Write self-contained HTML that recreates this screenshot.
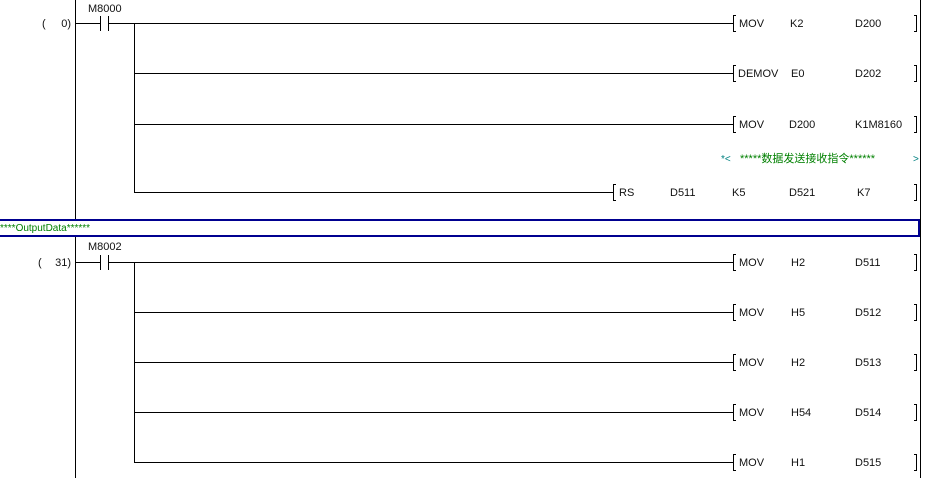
<!DOCTYPE html>
<html><head><meta charset="utf-8"><style>
html,body{margin:0;padding:0;background:#fff;width:941px;height:478px;overflow:hidden}
svg{display:block}
text{font-family:"Liberation Sans","Noto Sans CJK SC",sans-serif;font-size:11px;fill:#111}
.g{fill:#008000}
</style></head><body>
<svg width="941" height="478" viewBox="0 0 941 478" xmlns="http://www.w3.org/2000/svg">
<g stroke="#000" stroke-width="1" fill="none" shape-rendering="crispEdges">
<!-- rails -->
<line x1="75.5" y1="0" x2="75.5" y2="219"/>
<line x1="75.5" y1="237" x2="75.5" y2="478"/>
<line x1="920.5" y1="0" x2="920.5" y2="478"/>
<!-- block 1 -->
<line x1="76" y1="23.5" x2="100" y2="23.5"/>
<line x1="100.5" y1="16" x2="100.5" y2="31"/>
<line x1="108.5" y1="16" x2="108.5" y2="31"/>
<line x1="109" y1="23.5" x2="733" y2="23.5"/>
<line x1="134.5" y1="23" x2="134.5" y2="192"/>
<line x1="134" y1="73.5" x2="733" y2="73.5"/>
<line x1="134" y1="124.5" x2="733" y2="124.5"/>
<line x1="134" y1="192.5" x2="613" y2="192.5"/>
<!-- block 2 -->
<line x1="76" y1="262.5" x2="100" y2="262.5"/>
<line x1="100.5" y1="255" x2="100.5" y2="270"/>
<line x1="108.5" y1="255" x2="108.5" y2="270"/>
<line x1="109" y1="262.5" x2="733" y2="262.5"/>
<line x1="134.5" y1="262" x2="134.5" y2="462"/>
<line x1="134" y1="312.5" x2="733" y2="312.5"/>
<line x1="134" y1="362.5" x2="733" y2="362.5"/>
<line x1="134" y1="412.5" x2="733" y2="412.5"/>
<line x1="134" y1="462.5" x2="733" y2="462.5"/>
<!-- brackets -->
<path d="M736 15.5H733.5V31.5H736 M914 15.5H916.5V31.5H914"/>
<path d="M736 65.5H733.5V81.5H736 M914 65.5H916.5V81.5H914"/>
<path d="M736 116.5H733.5V132.5H736 M914 116.5H916.5V132.5H914"/>
<path d="M616 184.5H613.5V200.5H616 M914 184.5H916.5V200.5H914"/>
<path d="M736 254.5H733.5V270.5H736 M914 254.5H916.5V270.5H914"/>
<path d="M736 304.5H733.5V320.5H736 M914 304.5H916.5V320.5H914"/>
<path d="M736 354.5H733.5V370.5H736 M914 354.5H916.5V370.5H914"/>
<path d="M736 404.5H733.5V420.5H736 M914 404.5H916.5V420.5H914"/>
<path d="M736 454.5H733.5V470.5H736 M914 454.5H916.5V470.5H914"/>
</g>
<rect x="-2" y="220" width="921" height="16" fill="none" stroke="#000090" stroke-width="2"/>
<text x="0" y="231" class="g" style="font-size:10px">****OutputData******</text>
<!-- labels -->
<text x="42" y="27">(</text><text x="71" y="27" text-anchor="end">0)</text>
<text x="88" y="12">M8000</text>
<text x="38" y="266">(</text><text x="71" y="266" text-anchor="end">31)</text>
<text x="88" y="250">M8002</text>
<text x="739" y="27">MOV</text><text x="790" y="27">K2</text><text x="855" y="27">D200</text>
<text x="738" y="77">DEMOV</text><text x="791" y="77">E0</text><text x="855" y="77">D202</text>
<text x="739" y="128">MOV</text><text x="789" y="128">D200</text><text x="855" y="128">K1M8160</text>
<text x="721" y="162" style="fill:#008080;font-size:10px">*&lt;</text>
<text x="740" y="162" class="g">*****数据发送接收指令******</text>
<text x="913" y="162" style="fill:#008080;font-size:10px">&gt;</text>
<text x="619" y="196">RS</text><text x="670" y="196">D511</text><text x="732" y="196">K5</text><text x="789" y="196">D521</text><text x="857" y="196">K7</text>
<text x="739" y="266">MOV</text><text x="791" y="266">H2</text><text x="855" y="266">D511</text>
<text x="739" y="316">MOV</text><text x="791" y="316">H5</text><text x="855" y="316">D512</text>
<text x="739" y="366">MOV</text><text x="791" y="366">H2</text><text x="855" y="366">D513</text>
<text x="739" y="416">MOV</text><text x="791" y="416">H54</text><text x="855" y="416">D514</text>
<text x="739" y="466">MOV</text><text x="791" y="466">H1</text><text x="855" y="466">D515</text>
</svg>
</body></html>
